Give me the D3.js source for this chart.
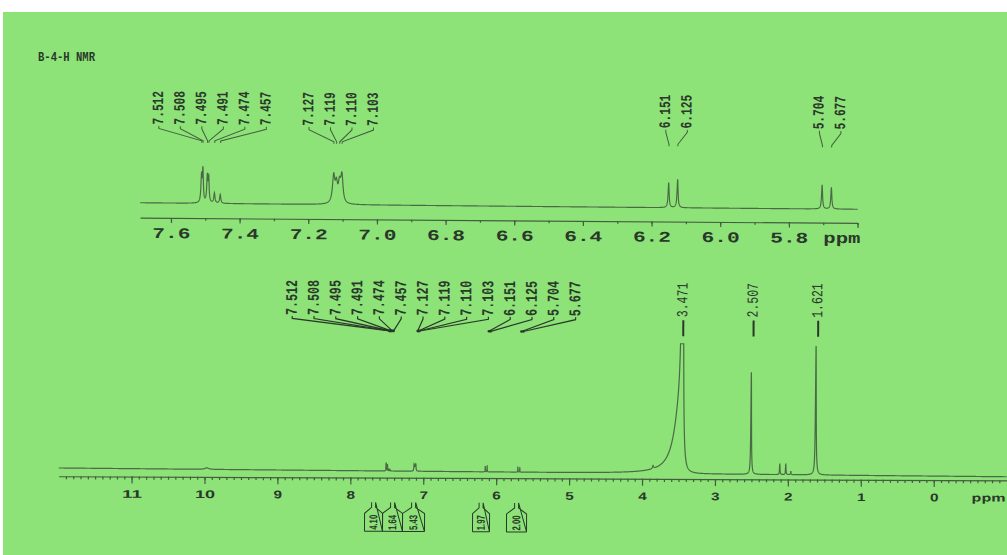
<!DOCTYPE html>
<html><head><meta charset="utf-8">
<script src="https://cdn.jsdelivr.net/npm/d3@7/dist/d3.min.js"></script>
<style>html,body{margin:0;padding:0;background:#ffffff;overflow:hidden}svg{display:block}</style>
</head><body>
<svg id="chart" width="1007" height="555"></svg>
<script>
// ---------------- data ----------------
const chartTitle = "B-4-H NMR";
const axisUnit = "ppm";
// resonances: shift (ppm), intensity (main-panel units), half-widths on high/low ppm side
const peakPpm    = [9.970, 7.512, 7.508, 7.495, 7.491, 7.474, 7.457, 7.127, 7.119, 7.110, 7.103, 6.151, 6.125, 5.704, 5.677, 3.850, 3.470, 3.450, 2.507, 2.112, 2.030, 1.960, 1.621];
const peakHeight = [1.5,   5.7,   7.3,   5.8,   5.4,   2.3,   2.0,   6.05,  4.0,   4.0,   6.05,  5.7,   6.45,  5.45,  4.9,   3.0,   72,    600,   102,   11,    11,    3.5,   129];
const peakWidthL = [0.030, 0.0018,0.0018,0.0018,0.0018,0.002, 0.002, 0.004, 0.004, 0.004, 0.004, 0.0018,0.0018,0.0018,0.0018,0.008, 0.100, 0.010, 0.005, 0.004, 0.004, 0.004, 0.006];
const peakWidthR = [0.030, 0.0018,0.0018,0.0018,0.0018,0.002, 0.002, 0.004, 0.004, 0.004, 0.004, 0.0018,0.0018,0.0018,0.0018,0.008, 0.012, 0.007, 0.005, 0.004, 0.004, 0.004, 0.006];
// peak-pick labels
const labelShifts = [7.512, 7.508, 7.495, 7.491, 7.474, 7.457, 7.127, 7.119, 7.110, 7.103, 6.151, 6.125, 5.704, 5.677];
const labelGroup  = [0, 0, 0, 0, 0, 0, 1, 1, 1, 1, 2, 2, 3, 3];
const singleShifts = [3.471, 2.507, 1.621];
// integrals
const integralFrom  = [7.803, 7.556, 7.282, 6.322, 5.856];
const integralTo    = [7.556, 7.282, 6.980, 6.089, 5.581];
const integralValue = [4.10, 1.64, 5.43, 1.97, 2.00];
// axes
const mainDomain  = [12, -1];
const insetDomain = [7.69, 5.6];
const mainTicks   = [11, 10, 9, 8, 7, 6, 5, 4, 3, 2, 1, 0];
const insetTicks  = [7.6, 7.4, 7.2, 7.0, 6.8, 6.6, 6.4, 6.2, 6.0, 5.8, 5.6];

// ---------------- style ----------------
const green = "#8de278", lineCol = "#4b6946", axisCol = "#445d40", textCol = "#2a382a";
const mono = "'Liberation Mono','DejaVu Sans Mono',monospace";
const sans = "'Liberation Sans',Arial,sans-serif";

const svg = d3.select("#chart");
svg.append("rect").attr("x",3).attr("y",12).attr("width",1004).attr("height",543).attr("fill",green);

svg.append("text").attr("x",38).attr("y",60.5).text(chartTitle)
  .attr("font-family",mono).attr("font-weight","bold").attr("font-size",13)
  .attr("textLength",57).attr("lengthAdjust","spacingAndGlyphs").attr("fill",textCol);

function intensity(p){
  let s = 0;
  for (let i=0;i<peakPpm.length;i++){
    const d = p - peakPpm[i];
    const g = d > 0 ? peakWidthL[i] : peakWidthR[i];
    s += peakHeight[i] / (1 + (d/g)*(d/g));
  }
  return s;
}
function samplePpm(domain, step){
  const [a,b] = domain;
  const pts = d3.range(a, b - step/2, -step);
  peakPpm.forEach((p,i)=>{
    const w = Math.min(peakWidthL[i], peakWidthR[i]);
    for (let k=-8;k<=8;k++){ const q = p + k*w*0.4; if (q<=a && q>=b) pts.push(q); }
  });
  return pts.sort((u,v)=>v-u);
}
function vText(g, x, y, str, size, weight, stretch, anchor){
  return g.append("text")
    .attr("transform",`translate(${x},${y}) rotate(-90) scale(1,${stretch})`)
    .attr("dominant-baseline","central").attr("text-anchor",anchor||"start")
    .attr("font-family",mono).attr("font-weight",weight).attr("font-size",size)
    .attr("fill",textCol).text(str);
}

// ================= INSET =================
const inG = svg.append("g").attr("transform","rotate(0.42,500,150)");
const xIn = d3.scaleLinear().domain(insetDomain).range([140.6, 858.1]);
const yIn = d3.scaleLinear().domain([0,10]).range([0,44]);
const inAxisY = 220.3;
const inBase = x => 205.6 + (x-140.6)/717.5*1.8;

const inMinor = inG.append("g").attr("transform",`translate(0,${inAxisY})`)
  .call(d3.axisBottom(xIn).tickValues(d3.range(76,55,-1).map(v=>v/10)).tickSize(2.5).tickSizeOuter(0).tickFormat(""));
inMinor.select(".domain").remove();
const inMajor = inG.append("g").attr("transform",`translate(0,${inAxisY})`)
  .call(d3.axisBottom(xIn).tickValues(insetTicks).tickSize(5).tickSizeOuter(0)
    .tickFormat(d => d > 5.7 ? d3.format(".1f")(d) : ""));
inG.selectAll("line, path.domain").attr("stroke",axisCol).attr("stroke-width",1.2);
inMajor.selectAll("text").attr("y",20.2).attr("dy",null)
  .attr("font-family",mono).attr("font-weight","bold").attr("font-size",15)
  .attr("fill",textCol).attr("textLength",d => d > 5.7 ? 38 : null).attr("lengthAdjust","spacingAndGlyphs");
inG.append("text").attr("x",824).attr("y",inAxisY+20.2).text(axisUnit)
  .attr("font-family",mono).attr("font-weight","bold").attr("font-size",15)
  .attr("textLength",37).attr("lengthAdjust","spacingAndGlyphs").attr("fill",textCol);

const inPts = samplePpm(insetDomain, 0.0005);
inG.append("path").attr("fill","none").attr("stroke",lineCol).attr("stroke-width",1.15)
  .attr("d", d3.line().x(p=>xIn(p)).y(p=>inBase(xIn(p)) - yIn(intensity(p)))(inPts));

// inset peak labels
const groups = d3.groups(labelShifts.map((s,i)=>({s, g:labelGroup[i]})), d=>d.g);
const inSpacing = 21.5;
groups.forEach(([gid, items])=>{
  const cx = xIn(d3.mean(items, d=>d.s)) + 3;
  items.forEach((d,j)=>{
    const lx = cx + (j - (items.length-1)/2)*inSpacing;
    vText(inG, lx, 127, d.s.toFixed(3), 11.2, "bold", 1.4);
    const px = xIn(d.s);
    inG.append("path").attr("fill","none").attr("stroke",axisCol).attr("stroke-width",1)
      .attr("d",`M${lx},128.5 L${lx},131 L${px},143 L${px},145`);
  });
});

// ================= MAIN =================
const mG = svg.append("g").attr("transform","rotate(0.25,530,400)");
const xMain = d3.scaleLinear().domain(mainDomain).range([59, 1007]);
const mainClip = 130;
const yMain = d3.scaleLinear().domain([0, mainClip]).range([0, 130]);
const mAxisY = 478.3;
const mBase = x => 470.05 + (x-60)/940*4.6;

const mMinor = mG.append("g").attr("transform",`translate(0,${mAxisY})`)
  .call(d3.axisBottom(xMain).tickValues(d3.range(119,-10,-1).map(v=>v/10)).tickSize(3).tickSizeOuter(0).tickFormat(""));
mMinor.select(".domain").remove();
const mMajor = mG.append("g").attr("transform",`translate(0,${mAxisY})`)
  .call(d3.axisBottom(xMain).tickValues(mainTicks).tickSize(7).tickSizeOuter(0).tickFormat(d3.format("d")));
mG.selectAll("line, path.domain").attr("stroke",axisCol).attr("stroke-width",1.2);
mMajor.selectAll("text").attr("y",21.2).attr("dy",null)
  .attr("font-family",sans).attr("font-weight","bold").attr("font-size",11).attr("fill",textCol)
  .attr("textLength",d=>{const n=String(d).length; return 8.5*n + 3*(n-1);})
  .attr("lengthAdjust","spacingAndGlyphs");
mG.append("text").attr("x",972).attr("y",mAxisY+21.2).text(axisUnit)
  .attr("font-family",sans).attr("font-weight","bold").attr("font-size",11)
  .attr("textLength",34).attr("lengthAdjust","spacingAndGlyphs").attr("fill",textCol);

const mPts = samplePpm(mainDomain, 0.002);
mG.append("path").attr("fill","none").attr("stroke",lineCol).attr("stroke-width",1.2)
  .attr("d", d3.line().x(p=>xMain(p)).y(p=>mBase(xMain(p)) - yMain(Math.min(intensity(p), mainClip)))(mPts));

// main peak labels (evenly spaced fan)
const mSpacing = 21.8;
const mCenter = xMain(d3.mean(labelShifts)) + 5;
labelShifts.forEach((s,j)=>{
  const lx = mCenter + (j - (labelShifts.length-1)/2)*mSpacing;
  vText(mG, lx, 316, s.toFixed(3), 11.7, "bold", 1.4);
  const px = xMain(s) + 3;
  mG.append("path").attr("fill","none").attr("stroke",textCol).attr("stroke-width",1.2)
    .attr("d",`M${lx},317 L${lx},319.5 L${px},331.5`);
  mG.append("circle").attr("cx",px).attr("cy",331.5).attr("r",1.3).attr("fill",textCol);
});
// single labels
singleShifts.forEach(s=>{
  const lx = xMain(s) + 2;
  vText(mG, lx, 316.5, s.toFixed(3), 11.5, "normal", 1.35);
  mG.append("line").attr("x1",lx).attr("x2",lx).attr("y1",319.5).attr("y2",335.5)
    .attr("stroke",textCol).attr("stroke-width",2);
});

// integrals
integralValue.forEach((v,i)=>{
  const l = xMain(integralFrom[i]), r = xMain(integralTo[i]), c = (l+r)/2;
  mG.append("path").attr("fill","none").attr("stroke",textCol).attr("stroke-width",1)
    .attr("d",`M${l},532 L${l},514 L${c-2},508 L${c-2},503 M${c+2},503 L${c+2},508 L${r},514 L${r},532 Z`);
  mG.append("line").attr("x1",l).attr("x2",r).attr("y1",532).attr("y2",532).attr("stroke",textCol).attr("stroke-width",1);
  mG.append("text")
    .attr("transform",`translate(${c},523) rotate(-90) scale(1,1.2)`)
    .attr("dominant-baseline","central").attr("text-anchor","middle")
    .attr("font-family",sans).attr("font-weight","bold").attr("font-size",9.5)
    .attr("textLength",15).attr("lengthAdjust","spacingAndGlyphs")
    .attr("fill",textCol).text(v.toFixed(2));
});
</script>
</body></html>
